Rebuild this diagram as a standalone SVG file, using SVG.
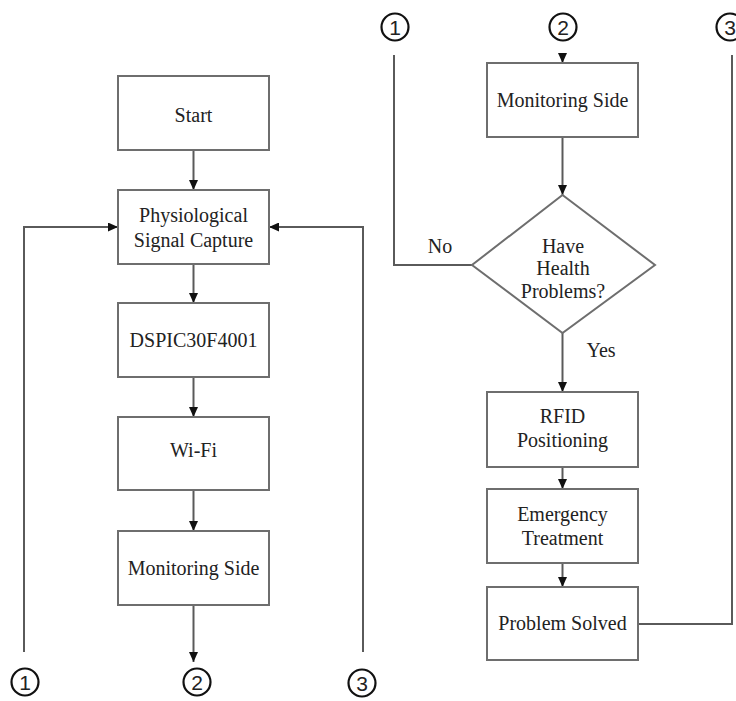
<svg xmlns="http://www.w3.org/2000/svg" width="736" height="701" viewBox="0 0 736 701">
<defs>
<marker id="ah" markerWidth="10" markerHeight="9" refX="10" refY="4.5" orient="auto" markerUnits="userSpaceOnUse">
<path d="M0,0 L10,4.5 L0,9 z" fill="#111"/>
</marker>
<style>
.box{fill:#fff;stroke:#6e6e6e;stroke-width:2}
.ln{fill:none;stroke:#5a5a5a;stroke-width:2}
.c{fill:#fff;stroke:#111;stroke-width:2.2}
</style>
</defs>
<rect width="736" height="701" fill="#fff"/>
<g id="connectors">
<line class="ln" x1="193.5" y1="150" x2="193.5" y2="190" marker-end="url(#ah)"/>
<line class="ln" x1="193.5" y1="264" x2="193.5" y2="303" marker-end="url(#ah)"/>
<line class="ln" x1="193.5" y1="377" x2="193.5" y2="417" marker-end="url(#ah)"/>
<line class="ln" x1="193.5" y1="490" x2="193.5" y2="531" marker-end="url(#ah)"/>
<line class="ln" x1="193.5" y1="605" x2="193.5" y2="662" marker-end="url(#ah)"/>
<polyline class="ln" points="24,652 24,227 118,227" marker-end="url(#ah)"/>
<polyline class="ln" points="363,652 363,227 269,227" marker-end="url(#ah)"/>
<polyline class="ln" points="394,55 394,265 472,265"/>
<line class="ln" x1="562.5" y1="55" x2="562.5" y2="63" marker-end="url(#ah)"/>
<line class="ln" x1="562.5" y1="137" x2="562.5" y2="195" marker-end="url(#ah)"/>
<line class="ln" x1="562.5" y1="333" x2="562.5" y2="392" marker-end="url(#ah)"/>
<line class="ln" x1="562.5" y1="467" x2="562.5" y2="489" marker-end="url(#ah)"/>
<line class="ln" x1="562.5" y1="563" x2="562.5" y2="587" marker-end="url(#ah)"/>
<polyline class="ln" points="638,624 732,624 732,55"/>
<g font-family="Liberation Serif, Times New Roman, serif" font-size="20" fill="#222" text-anchor="middle">
<text x="440" y="253">No</text>
<text x="601" y="357">Yes</text>
</g>
</g>
<g font-family="Liberation Serif, Times New Roman, serif" font-size="20" fill="#222" text-anchor="middle">
<g id="start"><rect class="box" x="118" y="76" width="151" height="74"/><text x="193.5" y="122">Start</text></g>
<g id="capture"><rect class="box" x="118" y="190" width="151" height="74"/><text x="193.5" y="222">Physiological</text><text x="193.5" y="247">Signal Capture</text></g>
<g id="dspic"><rect class="box" x="118" y="303" width="151" height="74"/><text x="193.5" y="347">DSPIC30F4001</text></g>
<g id="wifi"><rect class="box" x="118" y="417" width="151" height="73"/><text x="193.5" y="457">Wi-Fi</text></g>
<g id="monitor-left"><rect class="box" x="118" y="531" width="151" height="74"/><text x="193.5" y="575">Monitoring Side</text></g>
<g id="monitor-right"><rect class="box" x="487" y="63" width="151" height="74"/><text x="562.5" y="107">Monitoring Side</text></g>
<g id="decision"><polygon class="box" points="562.5,195 655,265 562.5,333 472,265"/><text x="563" y="253">Have</text><text x="563" y="275">Health</text><text x="563" y="298">Problems?</text></g>
<g id="rfid"><rect class="box" x="487" y="392" width="151" height="75"/><text x="562.5" y="423">RFID</text><text x="562.5" y="447">Positioning</text></g>
<g id="emergency"><rect class="box" x="487" y="489" width="151" height="74"/><text x="562.5" y="521">Emergency</text><text x="562.5" y="545">Treatment</text></g>
<g id="solved"><rect class="box" x="487" y="587" width="151" height="73"/><text x="562.5" y="630">Problem Solved</text></g>
</g>
<g font-family="Liberation Sans, Arial, sans-serif" font-size="21" fill="#222" text-anchor="middle">
<g id="c1-bottom"><circle class="c" cx="25" cy="682" r="13.5"/><text x="25" y="689.5">1</text></g>
<g id="c2-bottom"><circle class="c" cx="197" cy="682" r="13.5"/><text x="197" y="689.5">2</text></g>
<g id="c3-bottom"><circle class="c" cx="362" cy="683" r="13.5"/><text x="362" y="690.5">3</text></g>
<g id="c1-top"><circle class="c" cx="395" cy="27" r="13.5"/><text x="395" y="34.5">1</text></g>
<g id="c2-top"><circle class="c" cx="563" cy="27" r="13.5"/><text x="563" y="34.5">2</text></g>
<g id="c3-top"><circle class="c" cx="730" cy="27" r="13.5"/><text x="730" y="34.5">3</text></g>
</g>
</svg>
